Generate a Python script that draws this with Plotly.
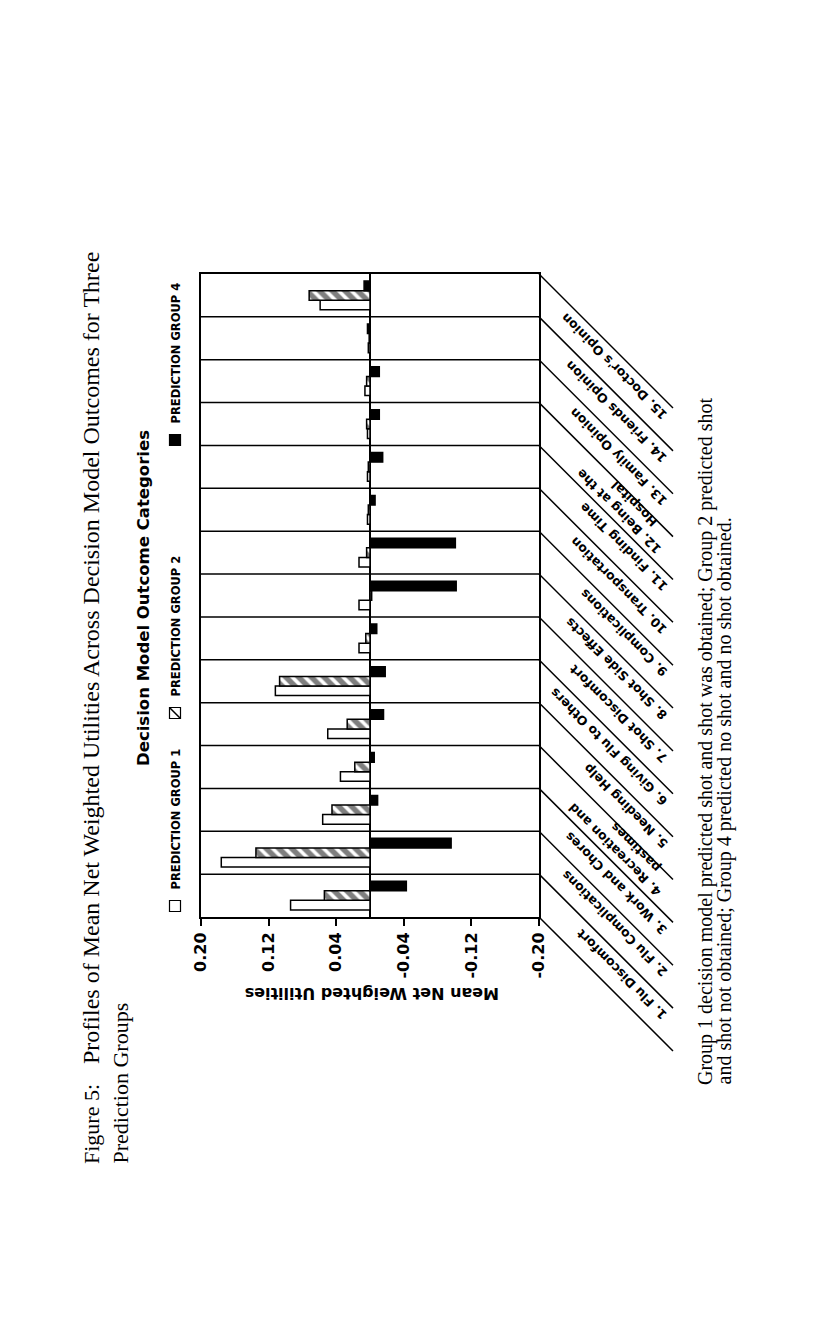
import plotly.graph_objects as go

# outcome categories, bottom (1) to top (15) in the rotated page
categories = [
    "1. Flu Discomfort",
    "2. Flu Complications",
    "3. Work and Chores",
    "4. Recreation and<br>\u00a0\u00a0\u00a0\u00a0pastimes",
    "5. Needing Help",
    "6. Giving Flu to Others",
    "7. Shot Discomfort",
    "8. Shot Side Effects",
    "9. Complications",
    "10. Transportation",
    "11. Finding Time",
    "12. Being at the<br>\u00a0\u00a0\u00a0\u00a0\u00a0Hospital",
    "13. Family Opinion",
    "14. Friends Opinion",
    "15. Doctor's Opinion",
]

group1 = [0.094, 0.176, 0.056, 0.035, 0.050, 0.112, 0.013, 0.013, 0.013, 0.003, 0.003, 0.003, 0.006, 0.002, 0.059]
group2 = [0.054, 0.135, 0.045, 0.018, 0.027, 0.107, 0.005, -0.002, 0.004, 0.002, 0.002, 0.004, 0.004, 0.001, 0.072]
group4 = [-0.043, -0.096, -0.009, -0.005, -0.016, -0.018, -0.008, -0.102, -0.101, -0.006, -0.015, -0.011, -0.011, 0.003, 0.007]

tick_vals = [0.20, 0.12, 0.04, -0.04, -0.12, -0.20]
tick_text = ["0.20", "0.12", "0.04", "-0.04", "-0.12", "-0.20"]

positions = list(range(1, len(categories) + 1))

# plot box in page pixels (page has an 8px body margin)
L, R, T, B = 201, 539, 274, 917
PAGE = 8
W, H = 800, 1311


def px(x):
    return (x - L) / (R - L)


def py(y):
    return (B - y) / (B - T)


outline = dict(color="black", width=1.5)
bold = "DejaVu Sans"

fig = go.Figure()
fig.add_trace(go.Bar(y=positions, x=group1, orientation="h", name="PREDICTION GROUP 1",
                     marker=dict(color="white", line=outline)))
fig.add_trace(go.Bar(y=positions, x=group2, orientation="h", name="PREDICTION GROUP 2",
                     marker=dict(color="white", line=outline,
                                 pattern=dict(shape="\\", fgcolor="black", bgcolor="white",
                                              size=9, solidity=0.6))))
fig.add_trace(go.Bar(y=positions, x=group4, orientation="h", name="PREDICTION GROUP 4",
                     marker=dict(color="black", line=outline)))

shapes = []
band = (B - T) / len(categories)
# category separators
for k in range(1, len(categories)):
    shapes.append(dict(type="line", xref="paper", yref="y", x0=0, x1=1, y0=k + 0.5, y1=k + 0.5,
                       line=dict(color="black", width=1.5)))
# slanted label guides
for k in range(len(categories) + 1):
    yb = B - k * band
    shapes.append(dict(type="line", xref="paper", yref="paper",
                       x0=px(R), y0=py(yb), x1=px(R + 134), y1=py(yb + 134),
                       line=dict(color="black", width=1.5)))

# legend symbols
sym = 5.5
legend_items = [(906, "PREDICTION GROUP 1", "white"), (713, "PREDICTION GROUP 2", "hatch"),
                (440, "PREDICTION GROUP 4", "black")]
annotations = []
for yc, label, kind in legend_items:
    shapes.append(dict(type="rect", xref="paper", yref="paper",
                       x0=px(175 - sym), x1=px(175 + sym), y0=py(yc + sym), y1=py(yc - sym),
                       fillcolor="black" if kind == "black" else "white",
                       line=dict(color="black", width=1.2)))
    if kind == "hatch":
        shapes.append(dict(type="line", xref="paper", yref="paper",
                           x0=px(175 - sym), y0=py(yc - sym), x1=px(175 + sym), y1=py(yc + sym),
                           line=dict(color="black", width=1.5)))
    annotations.append(dict(text="<b>" + label + "</b>", xref="paper", yref="paper",
                            x=px(175), y=py(yc - 14), xanchor="center", yanchor="bottom",
                            textangle=-90, showarrow=False,
                            font=dict(family=bold, size=11.5, color="black")))

# category labels along the slanted guides
s = 128
for k, label in enumerate(categories, start=1):
    yc = B - (k - 0.5) * band
    nlines = label.count("<br>") + 1
    h = 15 * nlines + 2
    off = 0.707 * h / 2
    annotations.append(dict(text="<b>" + label + "</b>", xref="paper", yref="paper",
                            x=px(R + s + off), y=py(yc + s + off - 4),
                            xanchor="right", yanchor="bottom", align="left",
                            textangle=-135, showarrow=False,
                            font=dict(family=bold, size=12.5, color="black")))

# chart title and axis title
annotations.append(dict(text="<b>Decision Model Outcome Categories</b>", xref="paper", yref="paper",
                        x=px(143), y=py(598), xanchor="center", yanchor="middle",
                        textangle=-90, showarrow=False,
                        font=dict(family=bold, size=16.5, color="black")))
annotations.append(dict(text="<b>Mean Net Weighted Utilities</b>", xref="paper", yref="paper",
                        x=px(372), y=py(994), xanchor="center", yanchor="middle",
                        textangle=180, showarrow=False,
                        font=dict(family=bold, size=16, color="black")))

# figure caption (page text)
serif = dict(family="Liberation Serif", size=22, color="black")
annotations.append(dict(text="Figure 5:", xref="paper", yref="paper", x=px(91), y=py(1166),
                        xanchor="center", yanchor="bottom", textangle=-90, showarrow=False, font=serif))
annotations.append(dict(text="Profiles of Mean Net Weighted Utilities Across Decision Model Outcomes for Three",
                        xref="paper", yref="paper", x=px(91), y=py(1066),
                        xanchor="center", yanchor="bottom", textangle=-90, showarrow=False,
                        font=dict(family="Liberation Serif", size=24, color="black")))
annotations.append(dict(text="Prediction Groups", xref="paper", yref="paper", x=px(120), y=py(1166),
                        xanchor="center", yanchor="bottom", textangle=-90, showarrow=False, font=serif))

note = dict(family="Liberation Serif", size=20, color="black")
annotations.append(dict(text="Group 1 decision model predicted shot and shot was obtained; Group 2 predicted shot",
                        xref="paper", yref="paper", x=px(705), y=py(1087),
                        xanchor="center", yanchor="bottom", textangle=-90, showarrow=False, font=note))
annotations.append(dict(text="and shot not obtained; Group 4 predicted no shot and no shot obtained.",
                        xref="paper", yref="paper", x=px(724), y=py(1087),
                        xanchor="center", yanchor="bottom", textangle=-90, showarrow=False, font=note))

fig.update_layout(
    width=W,
    height=H,
    margin=dict(l=L - PAGE, r=W - (R - PAGE), t=T - PAGE, b=H - (B - PAGE)),
    barmode="group",
    bargap=0.33,
    bargroupgap=0,
    showlegend=False,
    plot_bgcolor="white",
    paper_bgcolor="white",
    shapes=shapes,
    annotations=annotations,
)

fig.update_xaxes(
    range=[0.2, -0.2],
    tickvals=tick_vals,
    ticktext=["<b>" + t + "</b>" for t in tick_text],
    tickangle=-90,
    ticks="outside",
    ticklen=7,
    tickwidth=2,
    tickcolor="black",
    tickfont=dict(family=bold, size=16, color="black"),
    showline=True,
    linewidth=2,
    linecolor="black",
    mirror=True,
    showgrid=False,
    zeroline=True,
    zerolinecolor="black",
    zerolinewidth=2,
)
fig.update_yaxes(
    range=[0.5, len(categories) + 0.5],
    showticklabels=False,
    ticks="",
    showgrid=False,
    showline=True,
    linewidth=2,
    linecolor="black",
    mirror=True,
    zeroline=False,
)

fig.write_html("out.html")
